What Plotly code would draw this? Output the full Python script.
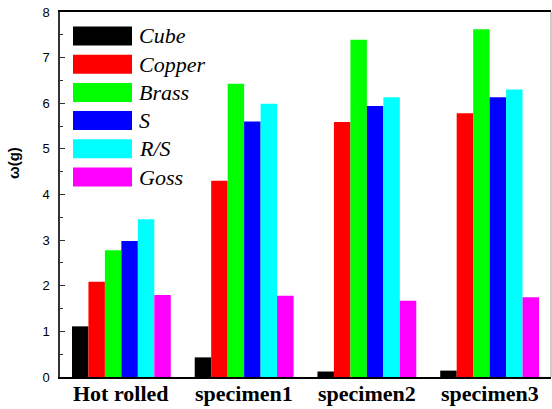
import plotly.graph_objects as go

categories = ["Hot rolled", "specimen1", "specimen2", "specimen3"]
series_names = ["Cube", "Copper", "Brass", "S", "R/S", "Goss"]
series_colors = ["#000000", "#FF0000", "#00FF00", "#0000FF", "#00FFFF", "#FF00FF"]

cube = [1.11, 0.43, 0.12, 0.14]
copper = [2.09, 4.30, 5.59, 5.78]
brass = [2.78, 6.43, 7.39, 7.62]
s_comp = [2.98, 5.60, 5.94, 6.13]
rs = [3.46, 5.99, 6.13, 6.30]
goss = [1.80, 1.78, 1.67, 1.75]

series_values = [cube, copper, brass, s_comp, rs, goss]
y_ticks = [0, 1, 2, 3, 4, 5, 6, 7, 8]

SERIF = "Liberation Serif, Times New Roman, serif"
SANS = "Liberation Sans, Arial, sans-serif"

W, H = 552, 409
ml, mr, mt, mb = 60, 1, 12, 32
plot_h = H - mt - mb
plot_w = W - ml - mr


def py(ypx):
    return (H - mb - ypx) / plot_h


def px(xpx):
    return (xpx - ml) / plot_w


fig = go.Figure()
for name, color, vals in zip(series_names, series_colors, series_values):
    fig.add_trace(go.Bar(
        x=categories, y=vals, name=name,
        marker=dict(color=color, line=dict(width=0)),
        showlegend=False,
    ))

# custom legend with large swatches
row0 = 36.0
row_step = 28.2
for i, (name, color) in enumerate(zip(series_names, series_colors)):
    cy = row0 + i * row_step
    fig.add_shape(type="rect", xref="paper", yref="paper",
                  x0=px(73), x1=px(132), y0=py(cy + 9.5), y1=py(cy - 9.5),
                  fillcolor=color, line=dict(width=0))
    fig.add_annotation(xref="paper", yref="paper",
                       x=px(137), y=py(cy),
                       text="<i>" + name + "</i>", showarrow=False,
                       xanchor="left", yanchor="middle",
                       font=dict(family=SERIF, size=22, color="black"))

# category labels
for cat in categories:
    fig.add_annotation(xref="x", yref="paper", x=cat, y=py(393),
                       text="<b>" + cat + "</b>", showarrow=False,
                       xanchor="center", yanchor="middle",
                       font=dict(family=SERIF, size=22, color="black"))

# right frame line (gray)
fig.add_shape(type="line", xref="paper", yref="paper", x0=1, x1=1, y0=0, y1=1,
              line=dict(color="#9a9a9a", width=1))

# y axis title
fig.add_annotation(xref="paper", yref="paper", x=px(13),
                   y=py(163), text="<b>ω(g)</b>", textangle=-90,
                   showarrow=False, xanchor="center", yanchor="middle",
                   font=dict(family=SANS, size=15, color="black"))

fig.update_layout(
    width=W, height=H,
    margin=dict(l=ml, r=mr, t=mt, b=mb, pad=0, autoexpand=False),
    paper_bgcolor="white", plot_bgcolor="white",
    barmode="group", bargap=0.195, bargroupgap=0,
    showlegend=False,
)
fig.update_xaxes(
    range=[-0.5, 3.5], showgrid=False, zeroline=False, automargin=False,
    showline=True, linecolor="black", linewidth=1.5, mirror=True,
    ticks="", showticklabels=False,
)
fig.update_yaxes(
    range=[0, 8], tickvals=y_ticks, ticktext=[str(v) for v in y_ticks],
    showgrid=False, zeroline=False, automargin=False,
    showline=True, linecolor="#333333", linewidth=1.5, mirror=False,
    ticks="inside", ticklen=5, tickwidth=1, tickcolor="#333333",
    minor=dict(dtick=0.5, ticks="inside", ticklen=3, tickcolor="#333333", tickwidth=1),
    tickfont=dict(family=SANS, size=13, color="black"),
    ticklabelstandoff=6,
)

fig.write_html("out.html", config={"displayModeBar": False},
               post_script="document.body.style.margin='0';")
